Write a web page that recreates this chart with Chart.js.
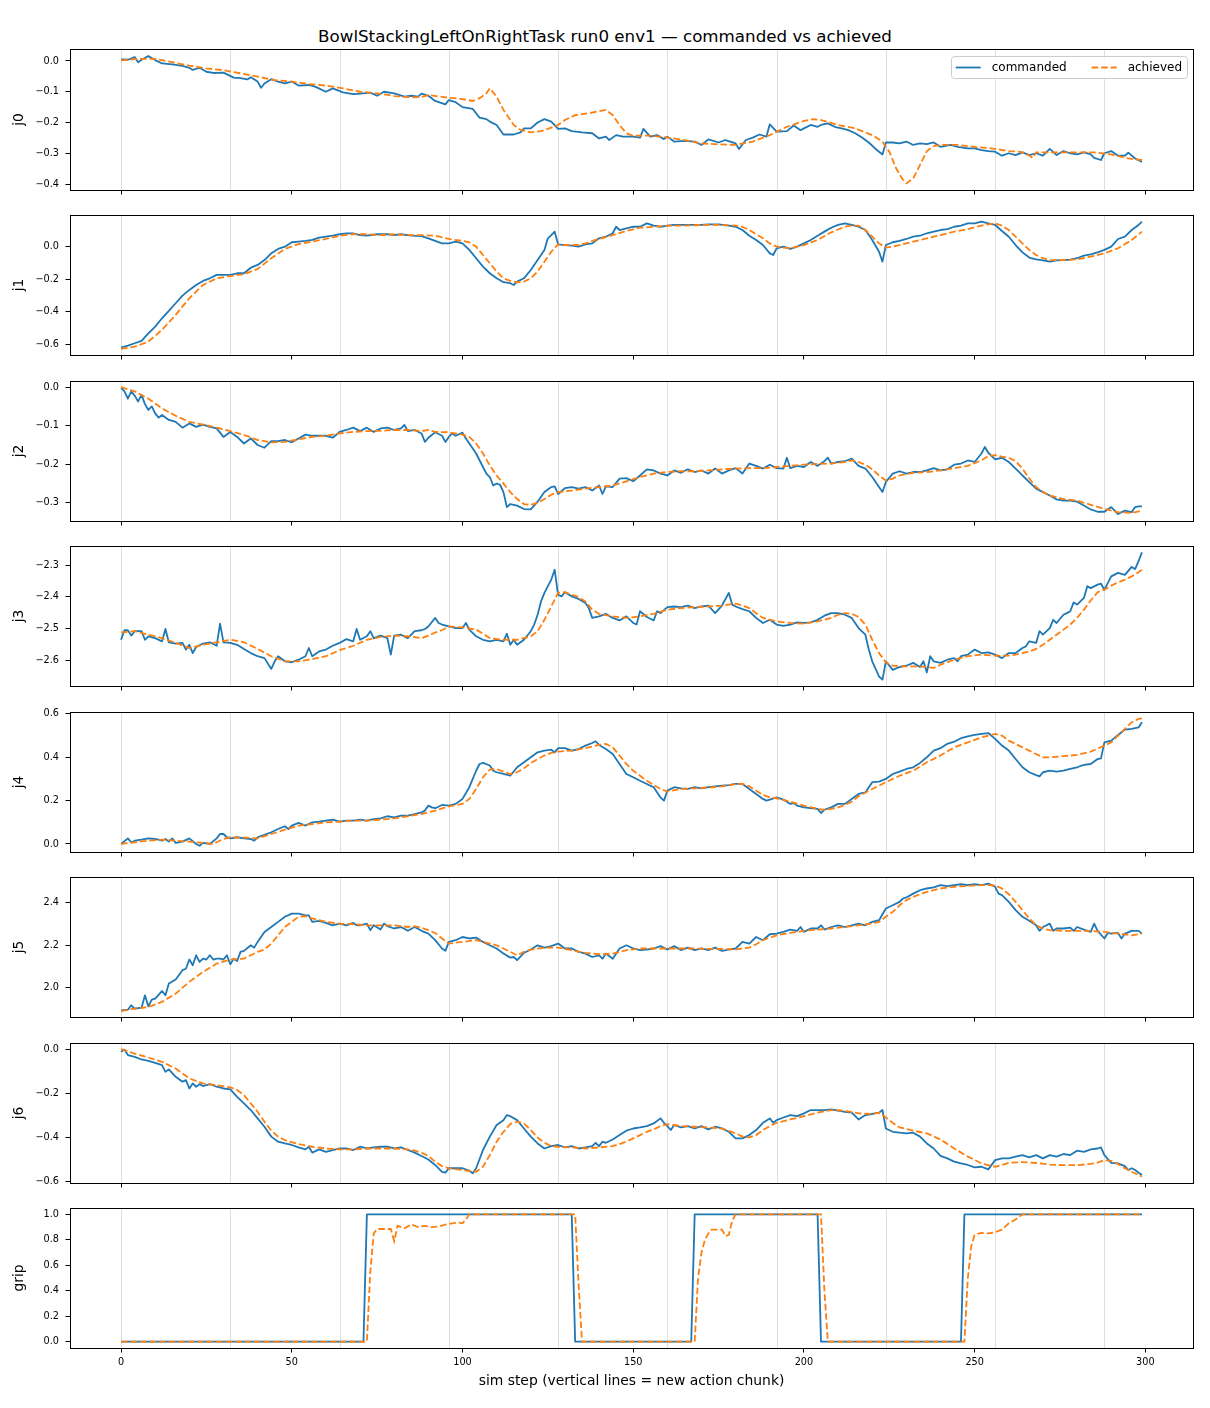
<!DOCTYPE html>
<html>
<head>
<meta charset="utf-8">
<title>BowlStackingLeftOnRightTask run0 env1 — commanded vs achieved</title>
<script src="https://cdn.jsdelivr.net/npm/chart.js@4.4.1/dist/chart.umd.min.js"></script>
<style>
  body { margin: 0; background: #fff; font-family: "DejaVu Sans", sans-serif; }
  #page { position: relative; width: 1210px; height: 1408px; overflow: hidden; }
  #page canvas { position: absolute; left: 0; }
  #title { position: absolute; left: 0; top: 26px; width: 1210px; line-height: 20px;
           text-align: center; font-size: 16.7px; color: #000; }
</style>
</head>
<body>
<div id="page">
  <div id="title">BowlStackingLeftOnRightTask run0 env1 — commanded vs achieved</div>
</div>
<script>
// ---- data: [sim step, value] ----
const j0Cmd = [[0,0.005],[2,0.004],[4,0.013],[5,-0.004],[6,0.004],[8,0.016],[10,0.003],[12,-0.008],[15,-0.011],[18,-0.016],[20,-0.022],[21,-0.029],[23,-0.022],[25,-0.035],[27,-0.039],[30,-0.038],[33,-0.054],[35,-0.056],[37,-0.060],[38,-0.053],[40,-0.067],[41,-0.087],[42,-0.073],[44,-0.059],[46,-0.067],[48,-0.073],[50,-0.067],[52,-0.080],[55,-0.078],[57,-0.084],[60,-0.100],[62,-0.089],[65,-0.102],[68,-0.108],[70,-0.106],[73,-0.103],[75,-0.113],[77,-0.100],[80,-0.105],[83,-0.116],[85,-0.113],[87,-0.116],[88,-0.106],[90,-0.113],[92,-0.130],[95,-0.141],[96,-0.127],[98,-0.134],[100,-0.150],[103,-0.156],[105,-0.184],[107,-0.189],[108,-0.197],[110,-0.208],[112,-0.239],[115,-0.239],[117,-0.232],[118,-0.219],[120,-0.219],[122,-0.200],[124,-0.189],[126,-0.197],[128,-0.221],[130,-0.219],[132,-0.228],[135,-0.232],[138,-0.235],[140,-0.252],[142,-0.246],[143,-0.257],[145,-0.241],[147,-0.246],[150,-0.246],[152,-0.249],[153,-0.221],[155,-0.246],[157,-0.241],[159,-0.254],[160,-0.246],[162,-0.262],[165,-0.260],[168,-0.262],[170,-0.273],[172,-0.255],[175,-0.265],[177,-0.257],[180,-0.268],[181,-0.286],[183,-0.257],[185,-0.249],[187,-0.239],[189,-0.246],[190,-0.206],[192,-0.230],[195,-0.228],[197,-0.210],[199,-0.225],[200,-0.219],[202,-0.208],[204,-0.214],[205,-0.208],[207,-0.203],[209,-0.214],[211,-0.219],[213,-0.225],[215,-0.235],[217,-0.249],[219,-0.265],[221,-0.286],[223,-0.304],[224,-0.265],[226,-0.265],[228,-0.268],[230,-0.262],[232,-0.273],[234,-0.268],[236,-0.270],[238,-0.265],[240,-0.279],[243,-0.273],[245,-0.279],[248,-0.284],[250,-0.284],[252,-0.290],[254,-0.293],[256,-0.295],[258,-0.308],[260,-0.300],[262,-0.306],[264,-0.297],[266,-0.306],[268,-0.300],[270,-0.308],[272,-0.286],[274,-0.306],[276,-0.293],[278,-0.300],[280,-0.304],[282,-0.297],[284,-0.304],[285,-0.315],[287,-0.322],[288,-0.300],[290,-0.293],[292,-0.308],[294,-0.308],[295,-0.298],[297,-0.317],[299,-0.328]];
const j0Ach = [[0,0.002],[5,0.007],[10,0.007],[15,-0.004],[20,-0.015],[25,-0.024],[30,-0.030],[35,-0.040],[40,-0.051],[45,-0.062],[50,-0.067],[55,-0.075],[60,-0.080],[65,-0.089],[70,-0.100],[75,-0.105],[80,-0.114],[85,-0.118],[88,-0.117],[90,-0.111],[95,-0.118],[100,-0.124],[103,-0.130],[105,-0.121],[107,-0.105],[108,-0.089],[110,-0.116],[112,-0.159],[115,-0.208],[117,-0.224],[120,-0.232],[123,-0.228],[125,-0.221],[128,-0.208],[130,-0.192],[133,-0.176],[137,-0.170],[140,-0.163],[142,-0.159],[144,-0.176],[146,-0.208],[148,-0.235],[150,-0.243],[155,-0.243],[160,-0.249],[165,-0.257],[170,-0.268],[175,-0.271],[180,-0.273],[185,-0.262],[190,-0.241],[195,-0.214],[200,-0.195],[203,-0.189],[205,-0.192],[210,-0.208],[215,-0.219],[220,-0.241],[223,-0.262],[225,-0.295],[227,-0.349],[229,-0.387],[230,-0.398],[232,-0.382],[234,-0.338],[236,-0.293],[238,-0.277],[240,-0.273],[245,-0.273],[250,-0.279],[255,-0.284],[260,-0.293],[263,-0.295],[265,-0.300],[267,-0.315],[268,-0.297],[270,-0.297],[275,-0.297],[280,-0.297],[285,-0.297],[290,-0.304],[295,-0.317],[299,-0.322]];

const j1Cmd = [[0,-0.618],[2,-0.606],[4,-0.592],[6,-0.578],[8,-0.531],[10,-0.490],[12,-0.439],[14,-0.394],[16,-0.347],[18,-0.300],[20,-0.265],[22,-0.235],[24,-0.210],[26,-0.194],[28,-0.173],[30,-0.173],[32,-0.173],[34,-0.163],[36,-0.163],[38,-0.129],[40,-0.112],[42,-0.082],[44,-0.041],[46,-0.014],[48,0.000],[50,0.027],[52,0.031],[54,0.035],[56,0.041],[58,0.055],[60,0.061],[62,0.067],[64,0.076],[66,0.082],[68,0.082],[70,0.071],[72,0.067],[75,0.076],[78,0.076],[80,0.071],[82,0.076],[85,0.067],[88,0.065],[90,0.051],[92,0.035],[94,0.020],[96,0.020],[98,0.031],[100,0.020],[102,-0.020],[104,-0.071],[106,-0.122],[108,-0.163],[110,-0.194],[112,-0.218],[114,-0.224],[115,-0.235],[116,-0.214],[118,-0.194],[120,-0.143],[122,-0.082],[124,-0.020],[125,0.051],[126,0.071],[127,0.092],[128,0.014],[130,0.010],[132,0.006],[134,0.000],[136,0.014],[138,0.020],[140,0.051],[142,0.061],[144,0.082],[145,0.122],[146,0.102],[148,0.112],[150,0.122],[152,0.122],[154,0.143],[156,0.129],[158,0.122],[160,0.129],[162,0.133],[165,0.133],[168,0.133],[170,0.133],[172,0.137],[175,0.137],[178,0.129],[180,0.122],[182,0.102],[184,0.067],[186,0.041],[188,0.010],[190,-0.041],[191,-0.051],[192,-0.010],[194,0.000],[196,-0.014],[198,0.000],[200,0.020],[202,0.041],[204,0.067],[206,0.092],[208,0.116],[210,0.133],[212,0.143],[214,0.133],[216,0.122],[218,0.102],[220,0.041],[222,-0.031],[223,-0.092],[224,0.010],[226,0.027],[228,0.035],[230,0.047],[232,0.061],[234,0.067],[236,0.082],[238,0.092],[240,0.102],[242,0.108],[244,0.122],[246,0.129],[248,0.143],[250,0.143],[252,0.153],[254,0.143],[256,0.133],[258,0.096],[260,0.061],[262,0.010],[264,-0.035],[266,-0.067],[268,-0.078],[270,-0.084],[272,-0.092],[274,-0.084],[276,-0.082],[278,-0.080],[280,-0.071],[282,-0.055],[284,-0.047],[286,-0.035],[288,-0.020],[290,0.000],[292,0.047],[294,0.061],[296,0.102],[298,0.133],[299,0.153]];
const j1Ach = [[0,-0.627],[4,-0.612],[8,-0.582],[12,-0.510],[16,-0.418],[20,-0.316],[24,-0.235],[28,-0.194],[32,-0.180],[36,-0.169],[40,-0.137],[44,-0.071],[48,-0.014],[52,0.016],[56,0.031],[60,0.047],[64,0.067],[68,0.076],[72,0.076],[76,0.071],[80,0.076],[84,0.071],[88,0.071],[92,0.067],[96,0.047],[100,0.035],[102,0.027],[104,0.000],[106,-0.051],[108,-0.102],[110,-0.153],[112,-0.194],[114,-0.210],[116,-0.218],[118,-0.214],[120,-0.194],[122,-0.153],[124,-0.092],[126,-0.031],[128,0.014],[130,0.010],[132,0.010],[134,0.010],[136,0.020],[138,0.035],[140,0.047],[144,0.071],[148,0.096],[152,0.116],[156,0.122],[160,0.129],[165,0.129],[170,0.133],[175,0.133],[180,0.129],[182,0.122],[184,0.102],[186,0.076],[188,0.051],[190,0.020],[192,0.000],[194,-0.006],[196,-0.010],[198,0.000],[200,0.010],[204,0.041],[208,0.088],[212,0.122],[214,0.129],[216,0.129],[218,0.102],[220,0.061],[222,0.020],[224,-0.006],[226,0.000],[228,0.010],[232,0.031],[236,0.051],[240,0.071],[244,0.092],[248,0.108],[252,0.129],[254,0.137],[256,0.143],[258,0.129],[260,0.102],[262,0.061],[264,0.020],[266,-0.020],[268,-0.051],[270,-0.071],[272,-0.082],[276,-0.082],[280,-0.078],[284,-0.061],[288,-0.041],[292,-0.010],[296,0.041],[299,0.092]];

const j2Cmd = [[0,-0.001],[1,-0.011],[2,-0.030],[3,-0.011],[4,-0.022],[5,-0.037],[6,-0.020],[7,-0.044],[8,-0.059],[9,-0.050],[10,-0.068],[11,-0.079],[12,-0.072],[14,-0.085],[16,-0.090],[18,-0.105],[20,-0.094],[22,-0.103],[24,-0.097],[26,-0.103],[28,-0.107],[30,-0.129],[32,-0.116],[34,-0.129],[36,-0.146],[38,-0.133],[40,-0.150],[42,-0.157],[44,-0.140],[46,-0.140],[48,-0.137],[50,-0.143],[52,-0.133],[54,-0.123],[56,-0.126],[58,-0.126],[60,-0.126],[62,-0.131],[64,-0.116],[66,-0.111],[68,-0.105],[70,-0.114],[72,-0.105],[74,-0.116],[76,-0.107],[78,-0.105],[80,-0.111],[82,-0.107],[83,-0.098],[84,-0.114],[86,-0.111],[88,-0.120],[89,-0.142],[90,-0.131],[92,-0.117],[94,-0.126],[95,-0.142],[96,-0.129],[97,-0.120],[98,-0.126],[100,-0.118],[101,-0.133],[102,-0.146],[104,-0.172],[106,-0.207],[107,-0.224],[108,-0.233],[109,-0.255],[110,-0.250],[111,-0.253],[112,-0.272],[113,-0.311],[114,-0.303],[116,-0.307],[118,-0.316],[120,-0.317],[122,-0.297],[124,-0.272],[126,-0.259],[127,-0.257],[128,-0.277],[130,-0.262],[132,-0.259],[134,-0.263],[136,-0.259],[138,-0.268],[140,-0.255],[141,-0.277],[142,-0.257],[144,-0.259],[146,-0.237],[148,-0.236],[150,-0.244],[152,-0.229],[154,-0.213],[156,-0.216],[158,-0.224],[160,-0.229],[162,-0.216],[164,-0.222],[166,-0.213],[168,-0.220],[170,-0.216],[172,-0.224],[174,-0.211],[176,-0.224],[178,-0.216],[180,-0.210],[182,-0.224],[184,-0.198],[186,-0.204],[188,-0.211],[190,-0.201],[192,-0.210],[194,-0.211],[195,-0.183],[196,-0.210],[198,-0.204],[200,-0.207],[202,-0.194],[204,-0.204],[206,-0.192],[207,-0.183],[208,-0.198],[210,-0.194],[212,-0.192],[214,-0.185],[216,-0.204],[218,-0.211],[220,-0.233],[222,-0.259],[223,-0.272],[224,-0.246],[226,-0.224],[228,-0.218],[230,-0.224],[232,-0.220],[234,-0.220],[236,-0.216],[238,-0.210],[240,-0.216],[242,-0.213],[244,-0.201],[246,-0.198],[248,-0.190],[250,-0.194],[252,-0.172],[253,-0.155],[254,-0.170],[256,-0.187],[258,-0.183],[260,-0.194],[262,-0.211],[264,-0.229],[266,-0.246],[268,-0.263],[270,-0.272],[272,-0.281],[274,-0.291],[276,-0.294],[278,-0.294],[280,-0.297],[282,-0.307],[284,-0.317],[286,-0.323],[288,-0.323],[290,-0.311],[292,-0.329],[294,-0.320],[296,-0.324],[297,-0.311],[298,-0.309],[299,-0.309]];
const j2Ach = [[0,0.000],[4,-0.011],[8,-0.030],[12,-0.055],[16,-0.074],[20,-0.090],[24,-0.097],[28,-0.105],[32,-0.114],[36,-0.124],[40,-0.137],[44,-0.143],[48,-0.142],[52,-0.135],[56,-0.129],[60,-0.126],[64,-0.120],[68,-0.116],[72,-0.114],[76,-0.113],[80,-0.111],[84,-0.111],[88,-0.114],[90,-0.111],[92,-0.116],[96,-0.117],[100,-0.123],[102,-0.129],[104,-0.146],[106,-0.172],[108,-0.203],[110,-0.229],[112,-0.250],[114,-0.272],[116,-0.290],[118,-0.303],[120,-0.305],[122,-0.300],[124,-0.290],[126,-0.279],[128,-0.272],[132,-0.268],[136,-0.263],[140,-0.259],[144,-0.255],[148,-0.244],[152,-0.233],[156,-0.224],[160,-0.220],[164,-0.218],[168,-0.218],[172,-0.216],[176,-0.213],[180,-0.211],[184,-0.210],[188,-0.210],[192,-0.207],[196,-0.204],[200,-0.201],[204,-0.199],[208,-0.198],[212,-0.194],[214,-0.190],[216,-0.194],[218,-0.201],[220,-0.213],[222,-0.229],[224,-0.242],[226,-0.237],[228,-0.229],[232,-0.222],[236,-0.220],[240,-0.216],[244,-0.210],[248,-0.204],[252,-0.190],[254,-0.178],[256,-0.176],[258,-0.180],[260,-0.183],[262,-0.192],[264,-0.211],[266,-0.237],[268,-0.259],[270,-0.272],[272,-0.281],[276,-0.290],[280,-0.294],[284,-0.305],[288,-0.316],[292,-0.324],[296,-0.326],[299,-0.320]];

const j3Cmd = [[0,-2.536],[1,-2.506],[2,-2.506],[3,-2.523],[4,-2.509],[6,-2.509],[7,-2.536],[8,-2.525],[10,-2.531],[12,-2.541],[13,-2.502],[14,-2.544],[16,-2.548],[18,-2.546],[19,-2.567],[20,-2.552],[21,-2.578],[22,-2.559],[24,-2.548],[26,-2.544],[28,-2.555],[29,-2.485],[30,-2.544],[32,-2.546],[34,-2.552],[36,-2.565],[38,-2.578],[40,-2.588],[42,-2.594],[44,-2.628],[45,-2.604],[46,-2.588],[48,-2.604],[50,-2.607],[52,-2.599],[54,-2.588],[55,-2.562],[56,-2.588],[58,-2.573],[60,-2.567],[62,-2.555],[64,-2.546],[66,-2.534],[68,-2.541],[69,-2.502],[70,-2.536],[72,-2.525],[73,-2.509],[74,-2.531],[76,-2.523],[78,-2.531],[79,-2.583],[80,-2.523],[82,-2.520],[84,-2.531],[86,-2.509],[88,-2.506],[89,-2.502],[90,-2.494],[92,-2.467],[93,-2.483],[94,-2.488],[96,-2.494],[98,-2.499],[100,-2.499],[101,-2.483],[102,-2.504],[104,-2.525],[106,-2.536],[108,-2.541],[110,-2.536],[112,-2.541],[113,-2.517],[114,-2.552],[115,-2.536],[116,-2.552],[118,-2.536],[120,-2.509],[121,-2.488],[122,-2.457],[123,-2.415],[124,-2.388],[126,-2.346],[127,-2.315],[128,-2.394],[129,-2.399],[130,-2.386],[132,-2.399],[134,-2.407],[136,-2.420],[137,-2.436],[138,-2.467],[140,-2.462],[142,-2.454],[144,-2.467],[146,-2.475],[148,-2.462],[150,-2.483],[151,-2.488],[152,-2.446],[154,-2.464],[156,-2.475],[157,-2.446],[158,-2.452],[160,-2.433],[162,-2.431],[164,-2.433],[166,-2.428],[168,-2.436],[170,-2.431],[172,-2.428],[174,-2.452],[176,-2.428],[178,-2.388],[179,-2.425],[180,-2.431],[182,-2.439],[184,-2.446],[186,-2.467],[188,-2.483],[190,-2.473],[192,-2.488],[194,-2.492],[196,-2.488],[198,-2.481],[200,-2.483],[202,-2.481],[204,-2.473],[206,-2.460],[208,-2.452],[210,-2.452],[212,-2.457],[214,-2.467],[216,-2.499],[218,-2.520],[219,-2.567],[220,-2.604],[222,-2.652],[223,-2.662],[224,-2.604],[226,-2.631],[228,-2.622],[230,-2.618],[232,-2.609],[234,-2.622],[235,-2.604],[236,-2.639],[237,-2.588],[238,-2.604],[240,-2.609],[242,-2.599],[244,-2.594],[245,-2.604],[246,-2.588],[248,-2.583],[250,-2.567],[252,-2.578],[254,-2.576],[256,-2.583],[258,-2.594],[260,-2.578],[262,-2.578],[264,-2.562],[265,-2.557],[266,-2.541],[268,-2.546],[269,-2.509],[270,-2.520],[272,-2.499],[273,-2.473],[274,-2.483],[276,-2.457],[277,-2.452],[278,-2.446],[279,-2.418],[280,-2.425],[282,-2.404],[283,-2.367],[284,-2.373],[286,-2.362],[287,-2.359],[288,-2.378],[290,-2.336],[292,-2.325],[294,-2.331],[296,-2.306],[297,-2.313],[298,-2.288],[299,-2.260]];
const j3Ach = [[0,-2.513],[4,-2.509],[8,-2.520],[12,-2.531],[16,-2.546],[20,-2.562],[24,-2.552],[28,-2.544],[32,-2.536],[36,-2.544],[40,-2.565],[44,-2.588],[48,-2.604],[52,-2.604],[56,-2.597],[60,-2.588],[64,-2.569],[68,-2.555],[72,-2.536],[76,-2.527],[80,-2.523],[84,-2.525],[88,-2.531],[90,-2.523],[92,-2.513],[94,-2.506],[96,-2.494],[100,-2.497],[104,-2.504],[106,-2.517],[108,-2.531],[112,-2.536],[116,-2.536],[120,-2.525],[122,-2.509],[124,-2.473],[126,-2.431],[128,-2.388],[130,-2.386],[132,-2.394],[134,-2.401],[136,-2.415],[138,-2.441],[140,-2.454],[144,-2.462],[148,-2.467],[152,-2.462],[156,-2.454],[160,-2.441],[164,-2.436],[168,-2.433],[172,-2.431],[176,-2.428],[180,-2.422],[182,-2.428],[184,-2.436],[186,-2.452],[188,-2.467],[192,-2.478],[196,-2.483],[200,-2.485],[204,-2.478],[208,-2.467],[210,-2.457],[212,-2.452],[214,-2.454],[216,-2.464],[218,-2.488],[220,-2.536],[222,-2.578],[224,-2.607],[226,-2.618],[228,-2.620],[232,-2.620],[236,-2.622],[238,-2.625],[240,-2.615],[244,-2.599],[248,-2.588],[252,-2.583],[256,-2.586],[260,-2.586],[262,-2.583],[264,-2.578],[266,-2.573],[268,-2.565],[270,-2.552],[272,-2.536],[274,-2.520],[276,-2.504],[278,-2.488],[280,-2.467],[282,-2.441],[284,-2.412],[286,-2.386],[288,-2.378],[290,-2.365],[292,-2.355],[294,-2.346],[296,-2.336],[298,-2.323],[299,-2.315]];

const j4Cmd = [[0,0.000],[2,0.026],[3,0.008],[4,0.015],[6,0.020],[8,0.026],[10,0.023],[12,0.015],[13,0.023],[14,0.011],[15,0.026],[16,0.005],[18,0.011],[20,0.026],[22,0.000],[23,-0.008],[24,0.005],[26,0.000],[28,0.026],[29,0.046],[30,0.046],[31,0.031],[32,0.026],[34,0.031],[36,0.026],[38,0.023],[39,0.015],[40,0.031],[42,0.042],[44,0.054],[46,0.069],[48,0.082],[49,0.069],[50,0.085],[52,0.097],[54,0.085],[56,0.100],[58,0.103],[60,0.108],[62,0.112],[64,0.103],[66,0.108],[68,0.108],[70,0.112],[72,0.108],[74,0.115],[76,0.118],[78,0.128],[80,0.123],[82,0.131],[84,0.131],[86,0.138],[88,0.146],[89,0.154],[90,0.177],[91,0.169],[92,0.165],[94,0.180],[96,0.177],[98,0.185],[100,0.208],[102,0.262],[104,0.338],[105,0.369],[106,0.374],[108,0.362],[109,0.338],[110,0.331],[112,0.323],[114,0.315],[116,0.354],[118,0.377],[120,0.400],[122,0.423],[124,0.431],[126,0.435],[127,0.423],[128,0.442],[130,0.442],[132,0.431],[134,0.438],[136,0.454],[138,0.466],[139,0.474],[140,0.457],[142,0.438],[144,0.415],[146,0.369],[148,0.323],[150,0.308],[152,0.292],[154,0.277],[155,0.269],[156,0.262],[158,0.215],[159,0.200],[160,0.246],[162,0.262],[164,0.257],[166,0.254],[168,0.262],[170,0.257],[172,0.262],[174,0.266],[176,0.269],[178,0.272],[180,0.277],[182,0.277],[184,0.254],[186,0.231],[188,0.208],[189,0.200],[190,0.205],[192,0.215],[194,0.205],[196,0.185],[197,0.189],[198,0.177],[200,0.169],[202,0.165],[204,0.162],[205,0.143],[206,0.158],[208,0.169],[210,0.185],[212,0.185],[214,0.208],[216,0.231],[218,0.238],[220,0.285],[222,0.288],[224,0.300],[226,0.323],[228,0.334],[230,0.346],[232,0.354],[234,0.374],[236,0.400],[238,0.431],[240,0.442],[242,0.462],[244,0.472],[246,0.488],[248,0.497],[250,0.503],[252,0.508],[254,0.512],[256,0.485],[258,0.454],[260,0.431],[262,0.392],[264,0.354],[266,0.331],[268,0.318],[269,0.312],[270,0.331],[272,0.338],[274,0.334],[276,0.338],[278,0.346],[280,0.354],[282,0.365],[284,0.369],[286,0.392],[287,0.395],[288,0.469],[290,0.477],[292,0.503],[294,0.528],[296,0.531],[298,0.538],[299,0.562]];
const j4Ach = [[0,0.000],[4,0.008],[8,0.015],[12,0.020],[16,0.015],[20,0.011],[24,0.005],[27,0.000],[28,0.008],[30,0.023],[32,0.031],[36,0.029],[40,0.026],[44,0.046],[48,0.066],[52,0.085],[56,0.092],[60,0.100],[64,0.103],[68,0.108],[72,0.108],[76,0.112],[80,0.118],[84,0.128],[88,0.138],[92,0.154],[96,0.174],[100,0.185],[102,0.208],[104,0.254],[106,0.308],[108,0.343],[110,0.346],[112,0.334],[114,0.323],[116,0.331],[118,0.349],[120,0.374],[122,0.392],[124,0.408],[126,0.420],[128,0.426],[132,0.431],[136,0.442],[140,0.457],[142,0.462],[144,0.446],[146,0.408],[148,0.369],[150,0.338],[152,0.315],[154,0.292],[156,0.272],[158,0.254],[160,0.242],[164,0.254],[168,0.257],[172,0.260],[176,0.266],[180,0.277],[182,0.277],[184,0.266],[186,0.246],[188,0.226],[190,0.215],[192,0.211],[196,0.195],[200,0.177],[204,0.162],[206,0.158],[208,0.162],[210,0.169],[212,0.180],[214,0.195],[216,0.220],[220,0.254],[224,0.285],[228,0.315],[232,0.338],[236,0.377],[240,0.408],[244,0.446],[248,0.469],[252,0.492],[256,0.508],[258,0.500],[260,0.477],[264,0.446],[268,0.415],[270,0.400],[272,0.400],[276,0.405],[280,0.411],[284,0.426],[288,0.454],[290,0.469],[292,0.500],[294,0.531],[296,0.562],[298,0.577],[299,0.580]];

const j5Cmd = [[0,1.893],[2,1.896],[3,1.917],[4,1.901],[6,1.906],[7,1.964],[8,1.912],[9,1.944],[10,1.948],[12,1.984],[13,1.964],[14,2.019],[16,2.038],[18,2.082],[19,2.089],[20,2.132],[21,2.105],[22,2.152],[23,2.121],[24,2.136],[25,2.132],[26,2.152],[27,2.132],[28,2.136],[29,2.136],[30,2.132],[31,2.152],[32,2.110],[33,2.136],[34,2.125],[35,2.168],[36,2.173],[38,2.199],[39,2.188],[40,2.215],[42,2.262],[44,2.285],[46,2.309],[48,2.333],[50,2.348],[52,2.348],[54,2.340],[55,2.340],[56,2.309],[58,2.314],[60,2.304],[62,2.293],[64,2.301],[66,2.293],[68,2.304],[69,2.293],[70,2.293],[72,2.301],[73,2.270],[74,2.293],[76,2.273],[77,2.301],[78,2.289],[80,2.278],[82,2.285],[84,2.267],[86,2.285],[88,2.267],[90,2.254],[92,2.223],[94,2.184],[95,2.173],[96,2.215],[98,2.223],[100,2.238],[102,2.231],[104,2.235],[106,2.215],[108,2.199],[110,2.184],[112,2.160],[114,2.141],[115,2.144],[116,2.129],[118,2.163],[120,2.179],[122,2.199],[124,2.188],[126,2.195],[128,2.207],[130,2.184],[132,2.184],[134,2.168],[136,2.160],[138,2.144],[140,2.152],[141,2.136],[142,2.160],[144,2.136],[146,2.184],[148,2.199],[150,2.184],[152,2.176],[154,2.179],[156,2.184],[158,2.195],[160,2.179],[162,2.195],[164,2.176],[166,2.188],[168,2.176],[170,2.184],[172,2.176],[174,2.188],[176,2.173],[178,2.179],[180,2.184],[182,2.215],[184,2.207],[186,2.238],[188,2.223],[190,2.251],[192,2.254],[194,2.262],[196,2.273],[198,2.267],[199,2.285],[200,2.262],[202,2.278],[204,2.278],[205,2.293],[206,2.273],[208,2.285],[210,2.293],[212,2.285],[214,2.293],[216,2.301],[218,2.293],[220,2.309],[222,2.317],[224,2.372],[226,2.387],[228,2.403],[229,2.419],[230,2.424],[232,2.442],[234,2.458],[236,2.466],[238,2.471],[240,2.482],[242,2.477],[244,2.482],[246,2.486],[248,2.482],[250,2.486],[252,2.482],[254,2.489],[256,2.474],[257,2.442],[258,2.435],[260,2.403],[262,2.364],[264,2.333],[266,2.314],[268,2.293],[269,2.267],[270,2.285],[272,2.301],[273,2.267],[274,2.278],[276,2.278],[278,2.282],[279,2.267],[280,2.285],[282,2.273],[284,2.262],[285,2.301],[286,2.267],[288,2.231],[289,2.257],[290,2.254],[292,2.257],[293,2.231],[294,2.254],[296,2.267],[298,2.267],[299,2.254]];
const j5Ach = [[0,1.890],[4,1.901],[8,1.909],[12,1.933],[16,1.972],[20,2.027],[24,2.074],[28,2.113],[32,2.132],[36,2.136],[40,2.168],[42,2.179],[44,2.207],[46,2.246],[48,2.285],[50,2.309],[52,2.333],[54,2.336],[56,2.325],[58,2.317],[60,2.309],[64,2.301],[68,2.298],[72,2.293],[76,2.293],[80,2.293],[84,2.285],[86,2.289],[88,2.282],[90,2.270],[92,2.257],[94,2.231],[96,2.207],[100,2.215],[104,2.223],[108,2.207],[110,2.199],[112,2.184],[114,2.168],[116,2.152],[118,2.168],[120,2.179],[124,2.188],[128,2.188],[132,2.176],[136,2.163],[140,2.157],[144,2.160],[148,2.176],[152,2.184],[156,2.184],[160,2.184],[164,2.184],[168,2.184],[172,2.182],[176,2.182],[180,2.180],[184,2.188],[186,2.204],[188,2.223],[190,2.235],[192,2.246],[196,2.257],[200,2.267],[204,2.273],[208,2.278],[212,2.285],[216,2.293],[220,2.301],[222,2.309],[224,2.333],[226,2.356],[228,2.387],[230,2.411],[232,2.427],[234,2.439],[236,2.450],[238,2.458],[240,2.466],[244,2.474],[248,2.478],[252,2.482],[255,2.482],[256,2.480],[258,2.466],[260,2.439],[262,2.403],[264,2.364],[266,2.325],[268,2.293],[270,2.278],[272,2.270],[276,2.267],[280,2.267],[284,2.267],[288,2.262],[292,2.254],[296,2.246],[299,2.254]];

const j6Cmd = [[0,-0.012],[1,-0.002],[2,-0.027],[4,-0.035],[6,-0.047],[8,-0.053],[10,-0.062],[12,-0.073],[13,-0.103],[14,-0.092],[16,-0.126],[18,-0.148],[19,-0.141],[20,-0.179],[21,-0.156],[22,-0.171],[23,-0.159],[24,-0.168],[26,-0.159],[28,-0.171],[30,-0.179],[32,-0.183],[34,-0.217],[36,-0.247],[38,-0.277],[40,-0.315],[42,-0.353],[44,-0.398],[46,-0.421],[48,-0.429],[50,-0.436],[52,-0.447],[54,-0.456],[55,-0.444],[56,-0.471],[58,-0.456],[60,-0.467],[62,-0.459],[64,-0.452],[66,-0.452],[68,-0.459],[70,-0.444],[72,-0.452],[74,-0.447],[76,-0.444],[78,-0.444],[80,-0.452],[82,-0.447],[84,-0.459],[86,-0.471],[88,-0.486],[90,-0.502],[92,-0.527],[94,-0.558],[95,-0.562],[96,-0.542],[98,-0.542],[100,-0.542],[102,-0.553],[103,-0.565],[104,-0.542],[106,-0.459],[108,-0.398],[110,-0.345],[112,-0.323],[113,-0.300],[114,-0.305],[116,-0.323],[118,-0.361],[120,-0.398],[122,-0.429],[124,-0.452],[126,-0.441],[128,-0.436],[130,-0.447],[132,-0.441],[134,-0.452],[136,-0.447],[138,-0.441],[139,-0.426],[140,-0.441],[141,-0.421],[142,-0.426],[144,-0.411],[146,-0.391],[148,-0.371],[150,-0.361],[152,-0.356],[154,-0.350],[156,-0.338],[158,-0.315],[159,-0.335],[160,-0.350],[161,-0.368],[162,-0.345],[164,-0.356],[166,-0.350],[168,-0.361],[170,-0.350],[172,-0.365],[174,-0.353],[176,-0.361],[178,-0.376],[180,-0.406],[182,-0.406],[184,-0.391],[186,-0.368],[188,-0.335],[190,-0.315],[191,-0.335],[192,-0.323],[194,-0.311],[196,-0.300],[198,-0.305],[200,-0.292],[202,-0.277],[204,-0.277],[206,-0.277],[208,-0.274],[210,-0.280],[212,-0.285],[214,-0.289],[216,-0.320],[218,-0.300],[220,-0.295],[222,-0.289],[223,-0.277],[224,-0.361],[226,-0.376],[228,-0.380],[230,-0.383],[232,-0.380],[234,-0.398],[236,-0.429],[238,-0.452],[240,-0.486],[242,-0.497],[244,-0.512],[246,-0.520],[248,-0.527],[250,-0.538],[252,-0.535],[254,-0.547],[256,-0.505],[258,-0.497],[260,-0.497],[262,-0.489],[264,-0.482],[266,-0.492],[268,-0.482],[270,-0.497],[272,-0.482],[274,-0.489],[276,-0.477],[278,-0.482],[280,-0.462],[282,-0.467],[284,-0.456],[286,-0.452],[287,-0.447],[288,-0.482],[290,-0.517],[292,-0.520],[294,-0.532],[295,-0.550],[296,-0.542],[297,-0.550],[298,-0.562],[299,-0.573]];
const j6Ach = [[0,0.000],[4,-0.020],[8,-0.038],[12,-0.058],[16,-0.088],[20,-0.133],[24,-0.156],[28,-0.164],[32,-0.174],[34,-0.186],[36,-0.209],[38,-0.247],[40,-0.285],[42,-0.330],[44,-0.371],[46,-0.398],[48,-0.414],[52,-0.432],[56,-0.444],[60,-0.452],[64,-0.456],[68,-0.456],[72,-0.452],[76,-0.452],[80,-0.452],[84,-0.456],[86,-0.462],[88,-0.471],[90,-0.486],[92,-0.512],[94,-0.532],[96,-0.542],[100,-0.550],[104,-0.558],[106,-0.535],[108,-0.482],[110,-0.421],[112,-0.376],[114,-0.341],[116,-0.330],[118,-0.338],[120,-0.368],[122,-0.402],[124,-0.426],[126,-0.441],[128,-0.444],[132,-0.447],[136,-0.452],[140,-0.447],[144,-0.441],[146,-0.432],[148,-0.421],[150,-0.406],[152,-0.391],[154,-0.376],[156,-0.365],[158,-0.350],[160,-0.341],[164,-0.350],[168,-0.353],[172,-0.356],[176,-0.361],[180,-0.383],[182,-0.398],[184,-0.401],[186,-0.391],[188,-0.368],[190,-0.350],[192,-0.335],[196,-0.320],[200,-0.305],[204,-0.289],[208,-0.277],[212,-0.280],[216,-0.292],[220,-0.295],[222,-0.289],[224,-0.311],[226,-0.335],[228,-0.356],[232,-0.371],[236,-0.383],[240,-0.411],[244,-0.452],[248,-0.489],[252,-0.520],[256,-0.535],[258,-0.527],[260,-0.517],[264,-0.514],[268,-0.518],[272,-0.525],[276,-0.528],[280,-0.528],[284,-0.522],[286,-0.516],[288,-0.505],[290,-0.508],[292,-0.523],[294,-0.542],[296,-0.558],[298,-0.573],[299,-0.580]];

const gripCmd = [[0,0],[71,0],[72,1],[132,1],[133,0],[167,0],[168,1],[204,1],[205,0],[246,0],[247,1],[299,1]];
const gripAch = [[0,0],[72,0],[73,0.55],[74,0.85],[75,0.885],[79,0.885],[80,0.79],[81,0.91],[83,0.89],[85,0.92],[87,0.9],[89,0.91],[91,0.9],[93,0.905],[95,0.92],[97,0.93],[99,0.935],[100,0.93],[101,0.96],[102,1],[133,1],[134,0.45],[135,0],[168,0],[169,0.5],[170,0.7],[171,0.8],[172,0.85],[173,0.88],[176,0.88],[177,0.83],[178,0.84],[179,0.95],[180,1],[205,1],[206,0.4],[207,0],[247,0],[248,0.5],[249,0.75],[250,0.84],[252,0.855],[254,0.85],[256,0.86],[258,0.88],[260,0.93],[262,0.96],[264,1],[299,1]];

// ---- ticks / chunk boundaries ----
const xTicks = [0, 50, 100, 150, 200, 250, 300];
const chunkStarts = [0, 32, 64, 96, 128, 160, 192, 224, 256, 288];
const j0Ticks = [-0.4, -0.3, -0.2, -0.1, 0.0];
const j1Ticks = [-0.6, -0.4, -0.2, 0.0];
const j2Ticks = [-0.3, -0.2, -0.1, 0.0];
const j3Ticks = [-2.6, -2.5, -2.4, -2.3];
const j4Ticks = [0.0, 0.2, 0.4, 0.6];
const j5Ticks = [2.0, 2.2, 2.4];
const j6Ticks = [-0.6, -0.4, -0.2, 0.0];
const gripTicks = [0.0, 0.2, 0.4, 0.6, 0.8, 1.0];

const panels = [
  { name: 'j0', cmd: j0Cmd, ach: j0Ach, ticks: j0Ticks, min: -0.4195, max: 0.039, top: 49, bottom: 190 },
  { name: 'j1', cmd: j1Cmd, ach: j1Ach, ticks: j1Ticks, min: -0.664, max: 0.194, top: 215, bottom: 355 },
  { name: 'j2', cmd: j2Cmd, ach: j2Ach, ticks: j2Ticks, min: -0.347, max: 0.016, top: 381, bottom: 521 },
  { name: 'j3', cmd: j3Cmd, ach: j3Ach, ticks: j3Ticks, min: -2.682, max: -2.240, top: 546, bottom: 686 },
  { name: 'j4', cmd: j4Cmd, ach: j4Ach, ticks: j4Ticks, min: -0.037, max: 0.609, top: 712, bottom: 852 },
  { name: 'j5', cmd: j5Cmd, ach: j5Ach, ticks: j5Ticks, min: 1.862, max: 2.520, top: 877, bottom: 1017 },
  { name: 'j6', cmd: j6Cmd, ach: j6Ach, ticks: j6Ticks, min: -0.609, max: 0.028, top: 1043, bottom: 1183 },
  { name: 'grip', cmd: gripCmd, ach: gripAch, ticks: gripTicks, min: -0.05, max: 1.05, top: 1208, bottom: 1348 },
];

const BLUE = '#1f77b4';
const ORANGE = '#ff7f0e';

Chart.defaults.font.family = '"DejaVu Sans", sans-serif';
Chart.defaults.color = '#000';
Chart.defaults.animation = false;

const fmt = v => v.toFixed(1).replace('-', '\u2212');

// chunk lines behind the data, frame on top
const framePlugin = {
  id: 'frame',
  beforeDatasetsDraw(chart) {
    const { ctx, chartArea: a, scales: { x } } = chart;
    ctx.save();
    ctx.strokeStyle = 'rgba(0,0,0,0.13)';
    ctx.lineWidth = 1;
    chunkStarts.forEach(s => {
      const px = Math.round(x.getPixelForValue(s)) + 0.5;
      ctx.beginPath();
      ctx.moveTo(px, a.top);
      ctx.lineTo(px, a.bottom);
      ctx.stroke();
    });
    ctx.restore();
  },
  afterDatasetsDraw(chart) {
    const { ctx, chartArea: a } = chart;
    ctx.save();
    ctx.strokeStyle = '#000';
    ctx.lineWidth = 1;
    ctx.strokeRect(Math.round(a.left) + 0.5, Math.round(a.top) + 0.5,
      Math.round(a.right - a.left), Math.round(a.bottom - a.top));
    ctx.restore();
  }
};

const legendPlugin = {
  id: 'cornerLegend',
  afterDraw(chart, args, opts) {
    if (!opts.show) return;
    const { ctx, chartArea: a } = chart;
    const sets = chart.data.datasets;
    ctx.save();
    ctx.font = '12px "DejaVu Sans"';
    const pad = 5, handle = 25, textGap = 11, colGap = 25, h = 22;
    const widths = sets.map(d => ctx.measureText(d.label).width);
    const w = pad * 2 + sets.length * (handle + textGap) + widths.reduce((p, c) => p + c, 0) + colGap * (sets.length - 1);
    const right = a.right - 6, top = a.top + 7, left = right - w;
    ctx.fillStyle = 'rgba(255,255,255,0.8)';
    ctx.strokeStyle = '#cccccc';
    ctx.lineWidth = 1;
    ctx.beginPath();
    ctx.roundRect(Math.round(left) + 0.5, top + 0.5, Math.round(w), h, 3);
    ctx.fill();
    ctx.stroke();
    let x = left + pad;
    const cy = top + h / 2 + 0.5;
    sets.forEach((d, i) => {
      ctx.strokeStyle = d.borderColor;
      ctx.lineWidth = d.borderWidth;
      ctx.setLineDash(d.borderDash || []);
      ctx.beginPath();
      ctx.moveTo(x, cy);
      ctx.lineTo(x + handle, cy);
      ctx.stroke();
      ctx.setLineDash([]);
      ctx.fillStyle = '#000';
      ctx.textBaseline = 'middle';
      ctx.fillText(d.label, x + handle + textGap, cy);
      x += handle + textGap + widths[i] + colGap;
    });
    ctx.restore();
  }
};

const page = document.getElementById('page');

panels.forEach((p, i) => {
  const last = i === panels.length - 1;
  const padTop = 10;
  const xh = last ? 45 : 8;
  const plotH = p.bottom - p.top;
  const canvas = document.createElement('canvas');
  canvas.width = 1210;
  canvas.height = padTop + plotH + xh;
  canvas.style.top = (p.top - padTop) + 'px';
  canvas.style.width = '1210px';
  canvas.style.height = canvas.height + 'px';
  page.appendChild(canvas);

  new Chart(canvas, {
    type: 'line',
    data: {
      datasets: [
        { label: 'commanded', data: p.cmd, borderColor: BLUE, borderWidth: 1.8,
          pointRadius: 0, tension: 0, borderJoinStyle: 'round', order: 1 },
        { label: 'achieved', data: p.ach, borderColor: ORANGE, borderWidth: 1.8,
          borderDash: [6.6, 2.9], pointRadius: 0, tension: 0, order: 0 },
      ],
    },
    options: {
      responsive: false,
      devicePixelRatio: 1,
      layout: { padding: { top: padTop, right: 17, left: 0, bottom: 0 } },
      plugins: {
        legend: { display: false },
        tooltip: { enabled: false },
        cornerLegend: { show: i === 0 },
      },
      scales: {
        x: {
          type: 'linear',
          min: -14.95,
          max: 313.95,
          afterBuildTicks: s => { s.ticks = xTicks.map(v => ({ value: v })); },
          afterFit: s => { s.height = xh; s.paddingLeft = 0; s.paddingRight = 0; },
          grid: { drawOnChartArea: false, drawTicks: true, tickLength: 4.5, color: '#000', lineWidth: 1 },
          border: { display: false },
          ticks: { display: last, autoSkip: false, maxRotation: 0, padding: 4,
                   font: { size: 9.7 }, callback: v => String(v) },
          title: { display: last, text: 'sim step (vertical lines = new action chunk)',
                   font: { size: 13.9 }, padding: { top: 0, bottom: 3 } },
        },
        y: {
          type: 'linear',
          min: p.min,
          max: p.max,
          afterBuildTicks: s => { s.ticks = p.ticks.map(v => ({ value: v })); },
          afterFit: s => { s.width = 70; s.paddingTop = 0; s.paddingBottom = 0; },
          grid: { drawOnChartArea: false, drawTicks: true, tickLength: 4.5, color: '#000', lineWidth: 1 },
          border: { display: false },
          ticks: { autoSkip: false, padding: 6.5, font: { size: 9.7 }, callback: v => fmt(v) },
          title: { display: true, text: p.name, font: { size: 13.9 }, padding: { top: 11, bottom: 0 } },
        },
      },
    },
    plugins: [framePlugin, legendPlugin],
  });
});
</script>
</body>
</html>
